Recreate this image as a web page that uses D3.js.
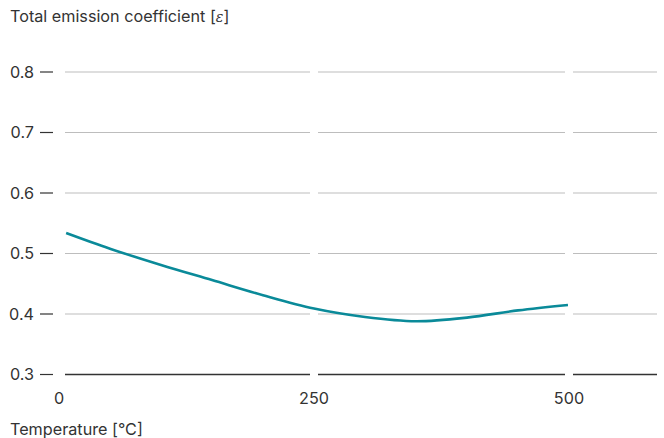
<!DOCTYPE html>
<html>
<head>
<meta charset="utf-8">
<script src="https://cdn.jsdelivr.net/npm/d3@7"></script>
<style>
  html, body { margin: 0; padding: 0; background: #fff; }
  svg text { font-family: Inter, Roboto, sans-serif; fill: #333; }
</style>
</head>
<body>
<svg id="chart" width="664" height="438"></svg>
<script>
// Emission coefficient of the surface versus temperature
const temperature = [7, 50, 100, 150, 200, 250, 300, 350, 400, 450, 499];
const emission    = [0.534, 0.508, 0.481, 0.456, 0.431, 0.409, 0.395, 0.388, 0.394, 0.406, 0.415];

const xTicks = [0, 250, 500];
const yTicks = [0.3, 0.4, 0.5, 0.6, 0.7, 0.8];

const yTitle = "Total emission coefficient [";
const yTitleSymbol = "\u03B5";
const xTitle = "Temperature [\u00B0C]";

const svg = d3.select("#chart");

const x = d3.scaleLinear().domain([0, 500]).range([59, 569]);
const y = d3.scaleLinear().domain([0.3, 0.8]).range([374.5, 72]);
const gridRight = 657;
const gap = 4;
const fontSize = 16.2;

// horizontal grid, broken at every x tick
const stops = [x(0) + 6, ...xTicks.slice(1).map(x), gridRight];
const segs = [];
for (let i = 0; i < stops.length - 1; i++) {
  const a = i === 0 ? stops[0] : stops[i] + gap;
  const b = i === stops.length - 2 ? stops[i + 1] : stops[i + 1] - gap;
  segs.push([a, b]);
}

yTicks.forEach(v => {
  const base = v === 0.3;
  segs.forEach(([a, b]) => {
    svg.append("line")
      .attr("x1", a).attr("x2", b)
      .attr("y1", y(v)).attr("y2", y(v))
      .attr("stroke", base ? "#333" : "#bdbdbd")
      .attr("stroke-width", base ? 1.5 : 1.2);
  });
  // tick dash
  svg.append("line")
    .attr("x1", 40).attr("x2", 53)
    .attr("y1", y(v)).attr("y2", y(v))
    .attr("stroke", "#333").attr("stroke-width", 1.2);
  svg.append("text")
    .attr("x", 34).attr("y", y(v))
    .attr("dy", "0.35em")
    .attr("text-anchor", "end")
    .attr("font-size", fontSize)
    .text(d3.format(".1f")(v));
});

xTicks.forEach(t => {
  svg.append("text")
    .attr("x", x(t)).attr("y", 404)
    .attr("text-anchor", "middle")
    .attr("font-size", fontSize)
    .text(t);
});

const title = svg.append("text")
  .attr("x", 10).attr("y", 22)
  .attr("font-size", fontSize);
title.append("tspan").text(yTitle);
title.append("tspan").attr("font-style", "italic")
  .attr("font-family", "'DejaVu Serif', serif").attr("font-size", fontSize - 2)
  .text(yTitleSymbol);
title.append("tspan").text("]");

svg.append("text")
  .attr("x", 10).attr("y", 435)
  .attr("font-size", fontSize)
  .text(xTitle);

const line = d3.line()
  .x((d, i) => x(temperature[i]))
  .y(d => y(d))
  .curve(d3.curveCatmullRom.alpha(0.5));

svg.append("path")
  .datum(emission)
  .attr("d", line)
  .attr("fill", "none")
  .attr("stroke", "#0a8a99")
  .attr("stroke-width", 2.6);
</script>
</body>
</html>
